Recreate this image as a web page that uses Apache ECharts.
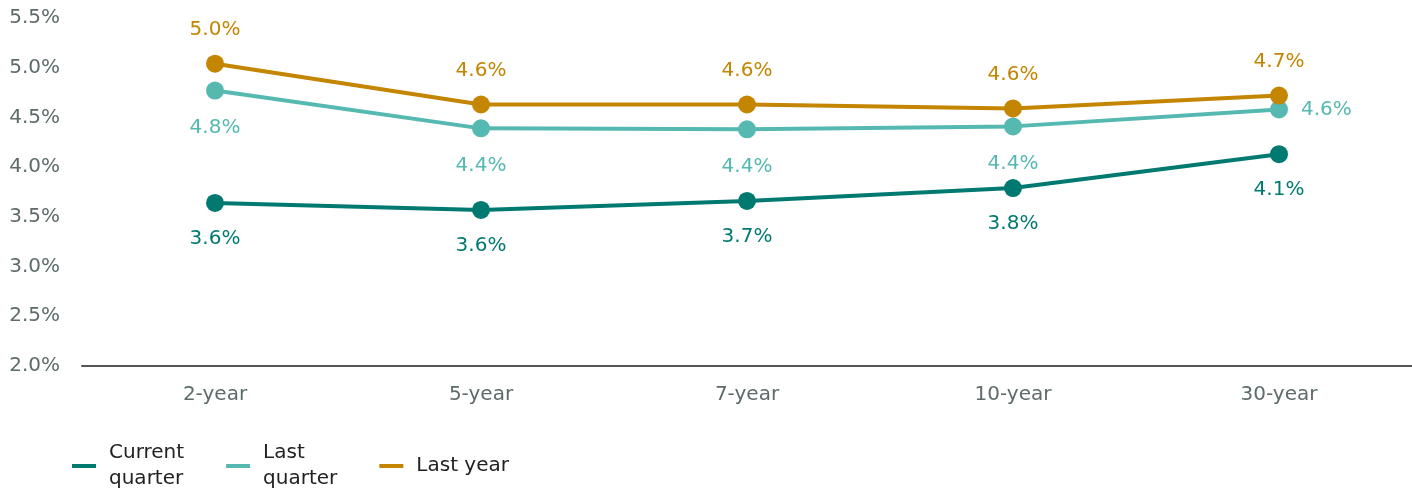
<!DOCTYPE html>
<html>
<head>
<meta charset="utf-8">
<script src="https://cdn.jsdelivr.net/npm/echarts@6/dist/echarts.min.js"></script>
<style>
  html, body { margin: 0; padding: 0; background: #fff; }
  #chart { width: 1412px; height: 495px; }
</style>
</head>
<body>
<div id="chart"></div>
<script>
  // 数据
  const categories = ["2-year", "5-year", "7-year", "10-year", "30-year"];
  const currentQuarter = [3.64, 3.57, 3.66, 3.79, 4.13];
  const lastQuarter = [4.77, 4.39, 4.38, 4.41, 4.58];
  const lastYear = [5.04, 4.63, 4.63, 4.59, 4.72];

  const font = "DejaVu Sans";
  const pct = (p) => p.value.toFixed(1) + "%";

  function makeSeries(name, data, color, pos, dist) {
    return {
      name: name,
      type: "line",
      data: data,
      symbol: "circle",
      symbolSize: 18,
      itemStyle: { color: color },
      lineStyle: { color: color, width: 4 },
      label: {
        show: true,
        position: pos,
        distance: dist,
        formatter: pct,
        color: color,
        fontFamily: font,
        fontSize: 20,
      },
      emphasis: { disabled: true },
      z: 2,
    };
  }

  const chart = echarts.init(document.getElementById("chart"));
  const lq = makeSeries("Last\nquarter", lastQuarter, "#56b9b1", "bottom", 18);
  // 30-year 的标签放在右边
  lq.data = lastQuarter.map((v, i) =>
    i === 4 ? { value: v, label: { position: "right", distance: 13 } } : v
  );

  chart.setOption({
    animation: false,
    grid: { left: 82, right: 0, top: 18, bottom: 129 },
    xAxis: {
      type: "category",
      data: categories,
      axisLine: { lineStyle: { color: "#555", width: 2 } },
      axisTick: { show: false },
      axisLabel: { color: "#5e6b6b", fontFamily: font, fontSize: 20, margin: 19 },
    },
    yAxis: {
      type: "value",
      min: 2,
      max: 5.5,
      interval: 0.5,
      splitLine: { show: false },
      axisLine: { show: false },
      axisLabel: {
        color: "#5e6b6b",
        fontFamily: font,
        fontSize: 20,
        margin: 22,
        formatter: (v) => v.toFixed(1) + "%",
      },
    },
    legend: {
      left: 67,
      top: 435,
      icon: "rect",
      itemWidth: 24,
      itemHeight: 4,
      itemGap: 42,
      textStyle: {
        color: "#222",
        fontFamily: font,
        fontSize: 20,
        lineHeight: 26,
        padding: [0, 0, 0, 8],
      },
      data: ["Current\nquarter", "Last\nquarter", "Last year"],
    },
    series: [
      makeSeries("Current\nquarter", currentQuarter, "#007a70", "bottom", 17),
      lq,
      makeSeries("Last year", lastYear, "#c48500", "top", 15),
    ],
  });
</script>
</body>
</html>
